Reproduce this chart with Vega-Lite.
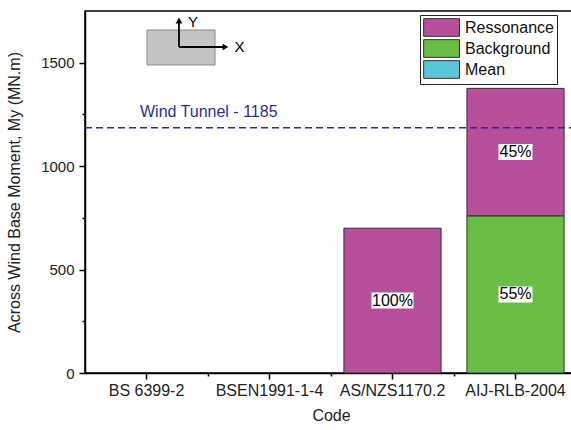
{
  "$schema": "https://vega.github.io/schema/vega-lite/v6.json",
  "width": 492,
  "height": 362,
  "padding": {"left": 6, "top": 11, "right": 0, "bottom": 0},
  "background": "white",
  "config": {
    "font": "Liberation Sans",
    "view": {"stroke": "black", "strokeWidth": 1.5},
    "axis": {"grid": false, "domainColor": "black", "domainWidth": 1.5, "tickColor": "black", "tickWidth": 1.5, "labelColor": "#222", "titleColor": "#222", "titleFontWeight": "normal", "labelFont": "Liberation Sans", "titleFont": "Liberation Sans"}
  },
  "datasets": {
    "bars": [
      {"code": "AS/NZS1170.2", "component": "Ressonance", "value": 700, "pct": "100%"},
      {"code": "AIJ-RLB-2004", "component": "Background", "value": 760, "pct": "55%"},
      {"code": "AIJ-RLB-2004", "component": "Ressonance", "value": 616, "pct": "45%"}
    ],
    "sketchRect": [{"x0": 0.504, "x1": 1.057, "y0": 1489, "y1": 1658}],
    "sketchArrows": [
      {"x0": 0.764, "y0": 1576, "x1": 0.764, "y1": 1700},
      {"x0": 0.764, "y0": 1576, "x1": 1.13, "y1": 1576}
    ],
    "sketchHeads": [
      {"x": 0.764, "y": 1704, "dir": "triangle-up"},
      {"x": 1.142, "y": 1576, "dir": "triangle-right"}
    ],
    "sketchText": [
      {"x": 0.878, "y": 1697, "t": "Y"},
      {"x": 1.256, "y": 1577, "t": "X"}
    ],
    "windLabel": [{"x": 0.447, "y": 1262, "t": "Wind Tunnel - 1185"}],
    "wind": [{"v": 1185, "from": 0, "to": 4}]
  },
  "layer": [
    {
      "encoding": {
        "x": {
          "field": "code", "type": "nominal",
          "scale": {"domain": ["BS 6399-2", "BSEN1991-1-4", "AS/NZS1170.2", "AIJ-RLB-2004"], "paddingInner": 0, "paddingOuter": 0},
          "axis": {"labelAngle": 0, "tickSize": 6, "labelPadding": 3, "labelFontSize": 16, "title": "Code", "titleFontSize": 16, "titlePadding": 9}
        }
      },
      "layer": [
        {
          "data": {"name": "bars"},
          "mark": {"type": "bar", "width": {"band": 0.79}, "stroke": "#333", "strokeWidth": 1},
          "encoding": {
            "y": {
              "field": "value", "type": "quantitative", "stack": "zero",
              "scale": {"domain": [0, 1750], "nice": false},
              "axis": {"values": [0, 500, 1000, 1500], "format": "d", "tickSize": 6, "labelPadding": 5, "labelFontSize": 15, "title": "Across Wind Base Moment, My (MN.m)", "titleFontSize": 16, "titlePadding": 18}
            },
            "color": {
              "field": "component", "type": "nominal",
              "scale": {"domain": ["Ressonance", "Background", "Mean"], "range": ["#b74f9d", "#6abd45", "#5ac7d8"]},
              "legend": {
                "title": null, "orient": "none", "legendX": 335, "legendY": 4,
                "strokeColor": "#222", "fillColor": "white", "padding": 3,
                "symbolType": "M-1,-1H3.05V1H-1Z", "symbolSize": 313, "symbolStrokeColor": "#333", "symbolStrokeWidth": 1, "symbolOpacity": 1,
                "labelFontSize": 16, "labelColor": "#111", "labelOffset": 23, "rowPadding": -3.2
              }
            },
            "order": {"field": "component", "sort": "ascending"}
          }
        },
        {
          "data": {"name": "bars"},
          "mark": {"type": "point", "filled": true, "fill": "white", "opacity": 1, "strokeWidth": 0},
          "encoding": {
            "y": {"field": "value", "type": "quantitative", "stack": "zero", "bandPosition": 0.5},
            "detail": {"field": "component"},
            "order": {"field": "component", "sort": "ascending"},
            "shape": {"condition": {"test": "length(datum.pct) > 3", "value": "M-1,-0.38H1V0.38H-1Z"}, "value": "M-1,-0.47H1V0.47H-1Z"},
            "size": {"condition": {"test": "length(datum.pct) > 3", "value": 1764}, "value": 1156}
          }
        },
        {
          "data": {"name": "bars"},
          "mark": {"type": "text", "fontSize": 16, "color": "black", "baseline": "middle", "align": "center"},
          "encoding": {
            "y": {"field": "value", "type": "quantitative", "stack": "zero", "bandPosition": 0.5},
            "detail": {"field": "component"},
            "order": {"field": "component", "sort": "ascending"},
            "text": {"field": "pct"}
          }
        }
      ]
    },
    {
      "encoding": {
        "x": {"type": "quantitative", "scale": {"domain": [0, 4], "nice": false, "zero": false},
          "axis": {"orient": "bottom", "values": [1, 2, 3], "tickSize": 3, "labels": false, "domain": false, "title": null}},
        "y": {"type": "quantitative", "scale": {"domain": [0, 1750], "nice": false},
          "axis": {"orient": "left", "values": [250, 750, 1250], "tickSize": 3, "labels": false, "domain": false, "title": null}}
      },
      "layer": [
        {
          "data": {"name": "wind"},
          "mark": {"type": "rule", "color": "#2b2f93", "strokeWidth": 1.5, "strokeDash": [7, 4]},
          "encoding": {"x": {"field": "from", "type": "quantitative"}, "x2": {"field": "to"}, "y": {"field": "v", "type": "quantitative"}}
        },
        {
          "data": {"name": "sketchRect"},
          "mark": {"type": "rect", "fill": "#c4c4c4", "stroke": "#8a8a8a", "strokeWidth": 1},
          "encoding": {"x": {"field": "x0", "type": "quantitative"}, "x2": {"field": "x1"}, "y": {"field": "y0", "type": "quantitative"}, "y2": {"field": "y1"}}
        },
        {
          "data": {"name": "sketchArrows"},
          "mark": {"type": "rule", "color": "black", "strokeWidth": 1.8},
          "encoding": {"x": {"field": "x0", "type": "quantitative"}, "x2": {"field": "x1"}, "y": {"field": "y0", "type": "quantitative"}, "y2": {"field": "y1"}}
        },
        {
          "data": {"name": "sketchHeads"},
          "mark": {"type": "point", "filled": true, "color": "black", "opacity": 1, "size": 45},
          "encoding": {"x": {"field": "x", "type": "quantitative"}, "y": {"field": "y", "type": "quantitative"}, "shape": {"field": "dir", "type": "nominal", "scale": null}}
        },
        {
          "data": {"name": "sketchText"},
          "mark": {"type": "text", "fontSize": 15, "color": "black", "baseline": "middle", "align": "center"},
          "encoding": {"x": {"field": "x", "type": "quantitative"}, "y": {"field": "y", "type": "quantitative"}, "text": {"field": "t"}}
        },
        {
          "data": {"name": "windLabel"},
          "mark": {"type": "text", "fontSize": 16, "color": "#2b2f93", "baseline": "middle", "align": "left"},
          "encoding": {"x": {"field": "x", "type": "quantitative"}, "y": {"field": "y", "type": "quantitative"}, "text": {"field": "t"}}
        }
      ]
    }
  ],
  "resolve": {"scale": {"x": "independent", "y": "independent"}, "axis": {"x": "independent", "y": "independent"}}
}
